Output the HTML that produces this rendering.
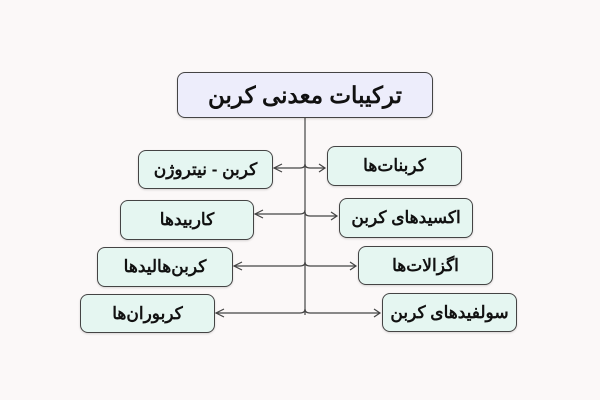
<!DOCTYPE html>
<html><head><meta charset="utf-8"><style>
body{margin:0;width:600px;height:400px;background:#fbf8f8;position:relative;overflow:hidden;font-family:"Liberation Sans","Noto Sans CJK SC",sans-serif}
.b{position:absolute;box-sizing:border-box;border:1.3px solid #444;border-radius:8px;background:#e5f6f1;display:flex;align-items:center;justify-content:center;font-size:17px;font-weight:bold;color:#111;direction:rtl;box-shadow:0 1px 2px rgba(0,0,0,.15)}
</style></head><body>
<svg width="600" height="400" style="position:absolute;left:0;top:0">
<g stroke="#444" stroke-width="1.2" fill="none">
<line x1="305" y1="118" x2="305" y2="315"/>
<path d="M274 168 H300 q5 0 5 -4 M305 164 q0 4 5 4 H325"/>
<path d="M255 214 H300 q5 0 5 -4 M305 212 q0 4 5 4 H337"/>
<path d="M234 266 H300 q5 0 5 -4 M305 262 q0 4 5 4 H356"/>
<path d="M216 313 H300 q5 0 5 -4 M305 309 q0 4 5 4 H380"/>
<path d="M282 164 l-8 4 l8 4 M319 164 l6 4 l-6 4"/>
<path d="M263 210 l-8 4 l8 4 M331 212 l6 4 l-6 4"/>
<path d="M242 262 l-8 4 l8 4 M350 262 l6 4 l-6 4"/>
<path d="M224 309 l-8 4 l8 4 M374 309 l6 4 l-6 4"/>
</g></svg>
<div class="b" style="left:177px;top:72px;width:256px;height:46px;background:#ededfb;font-size:23px">ترکیبات معدنی کربن</div>
<div class="b" style="left:138px;top:150px;width:135px;height:39px">کربن - نیتروژن</div>
<div class="b" style="left:327px;top:146px;width:135px;height:40px">کربنات‌ها</div>
<div class="b" style="left:120px;top:200px;width:134px;height:40px">کاربیدها</div>
<div class="b" style="left:339px;top:198px;width:134px;height:40px">اکسیدهای کربن</div>
<div class="b" style="left:97px;top:247px;width:136px;height:40px">کربن‌هالیدها</div>
<div class="b" style="left:358px;top:246px;width:135px;height:39px">اگزالات‌ها</div>
<div class="b" style="left:80px;top:294px;width:135px;height:39px">کربوران‌ها</div>
<div class="b" style="left:382px;top:293px;width:135px;height:39px">سولفیدهای کربن</div>
</body></html>
